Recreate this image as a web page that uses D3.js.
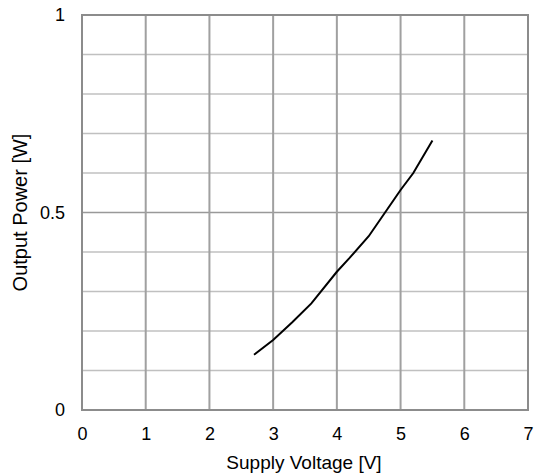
<!DOCTYPE html>
<html><head><meta charset="utf-8">
<script src="https://cdn.jsdelivr.net/npm/d3@7"></script>
<style>body{margin:0;background:#fff;} text{font-family:"Liberation Sans",Arial,sans-serif;fill:#000;}</style>
</head><body>
<svg id="c" width="542" height="474"></svg>
<script>
const voltage = [2.7, 3.0, 3.3, 3.6, 4.0, 4.2, 4.5, 4.8, 5.0, 5.2, 5.5];
const power   = [0.14, 0.177, 0.222, 0.27, 0.35, 0.385, 0.44, 0.51, 0.557, 0.6, 0.682];
const xTicks = [0,1,2,3,4,5,6,7];
const yTicks = [0, 0.5, 1];
const yMinor = [0.1,0.2,0.3,0.4,0.6,0.7,0.8,0.9];
const xTitle = "Supply Voltage [V]";
const yTitle = "Output Power [W]";

const svg = d3.select("#c");
const L=82, R=528, T=15, B=410;
const x = d3.scaleLinear().domain([0,7]).range([L,R]);
const y = d3.scaleLinear().domain([0,1]).range([B,T]);

svg.append("g").selectAll("line").data(yMinor).join("line")
  .attr("x1",L).attr("x2",R).attr("y1",d=>y(d)).attr("y2",d=>y(d))
  .attr("stroke","#c0c0c0").attr("stroke-width",1.5);
svg.append("g").selectAll("line").data([0.5]).join("line")
  .attr("x1",L).attr("x2",R).attr("y1",d=>y(d)).attr("y2",d=>y(d))
  .attr("stroke","#999").attr("stroke-width",1.5);
svg.append("g").selectAll("line").data(xTicks.slice(1,-1)).join("line")
  .attr("x1",d=>x(d)).attr("x2",d=>x(d)).attr("y1",T).attr("y2",B)
  .attr("stroke","#a0a0a0").attr("stroke-width",2);
svg.append("rect").attr("x",L).attr("y",T).attr("width",R-L).attr("height",B-T)
  .attr("fill","none").attr("stroke","#8c8c8c").attr("stroke-width",2);

const xa = svg.append("g").attr("transform",`translate(0,${B})`)
  .call(d3.axisBottom(x).tickValues(xTicks).tickFormat(d3.format("d")).tickSize(0).tickPadding(17));
xa.select(".domain").remove();
xa.selectAll("text").style("font-size","18px").attr("fill","#000");
const ya = svg.append("g").attr("transform",`translate(${L},0)`)
  .call(d3.axisLeft(y).tickValues(yTicks).tickFormat(d=>d===0.5?"0.5":d3.format("d")(d)).tickSize(0).tickPadding(17));
ya.select(".domain").remove();
ya.selectAll("text").style("font-size","18px").attr("fill","#000");

const line = d3.line().x((d,i)=>x(voltage[i])).y(d=>y(d));
svg.append("path").datum(power).attr("d",line)
  .attr("fill","none").attr("stroke","#000").attr("stroke-width",2);

svg.append("text").attr("x",(L+R)/2 - 1).attr("y",469).attr("text-anchor","middle")
  .style("font-size","19px").text(xTitle);
svg.append("text").attr("transform",`translate(27,${(T+B)/2}) rotate(-90)`).attr("text-anchor","middle")
  .style("font-size","20px").text(yTitle);
</script>
</body></html>
